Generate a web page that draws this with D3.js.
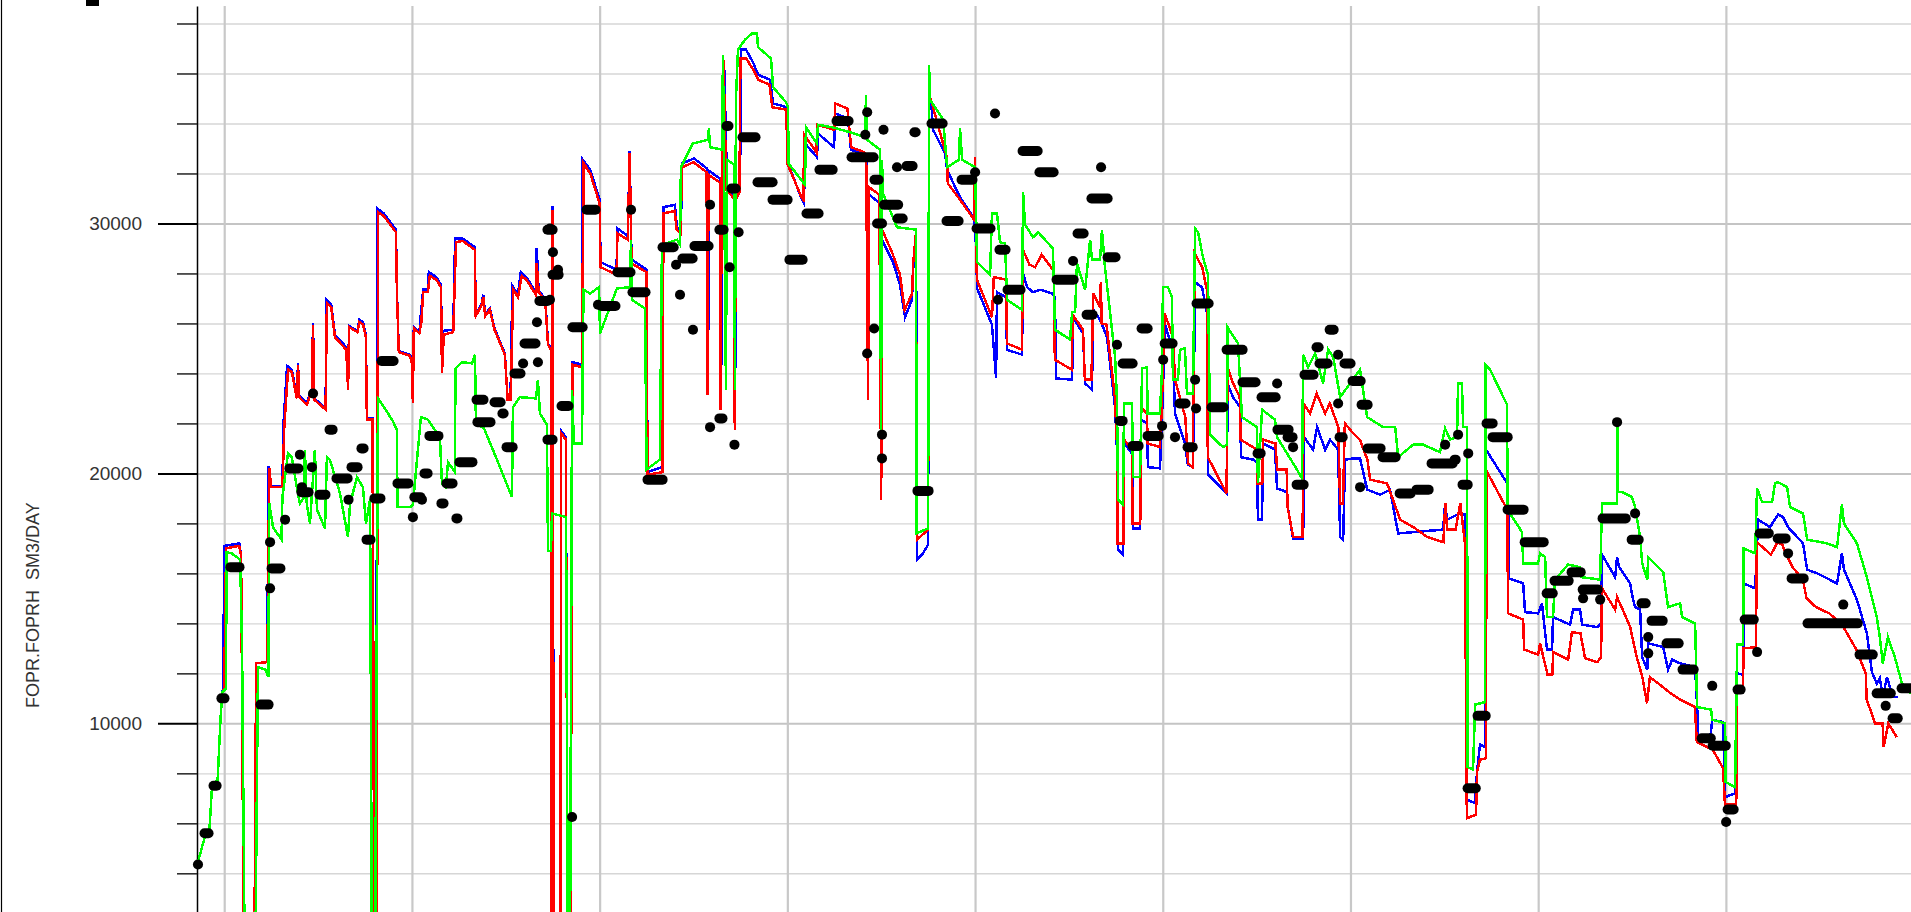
<!DOCTYPE html>
<html>
<head>
<meta charset="utf-8">
<script src="https://cdn.jsdelivr.net/npm/d3@7"></script>
<style>
  html, body { margin: 0; padding: 0; background: #fff; }
  svg { display: block; }
</style>
</head>
<body>
<svg id="chart" width="1911" height="912"></svg>
<script>
// time in decimal years, rates in SM3/DAY (0 = well shut in, off the bottom of the view)
const yearTicks = [2001, 2002, 2003, 2004, 2005, 2006, 2007, 2008, 2009]
const minorTicks = [4000, 6000, 8000, 12000, 14000, 16000, 18000, 22000, 24000, 26000, 28000, 32000, 34000, 36000, 38000]
const majorTicks = [10000, 20000, 30000]
const yLabel = "FOPR.FOPRH  SM3/DAY"

const redRate = [
  [2000.86,4450],[2000.90,5550],[2000.92,5600],[2000.935,7450],[2000.965,7750],[2000.98,10150],[2000.99,11250],[2001.00,11400],
  [2001.01,17000],[2001.08,17100],[2001.09,16700],[2001.105,0],[2001.16,0],[2001.17,12400],[2001.23,12450],[2001.24,20200],
  [2001.25,19450],[2001.31,19450],[2001.32,21850],[2001.34,24150],[2001.36,24050],[2001.387,23000],[2001.393,24350],[2001.40,23050],
  [2001.44,22750],[2001.467,23350],[2001.473,25950],[2001.48,22950],[2001.54,22550],[2001.547,26800],[2001.57,26650],[2001.59,25450],
  [2001.65,24950],[2001.66,23350],[2001.665,25850],[2001.71,25650],[2001.72,26050],[2001.74,25950],[2001.755,25450],[2001.76,22150],
  [2001.79,22150],[2001.80,0],[2001.81,0],[2001.82,30450],[2001.85,30300],[2001.915,29650],[2001.92,27250],[2001.93,24850],
  [2001.99,24700],[2002.00,24400],[2002.005,22800],[2002.01,25800],[2002.04,25600],[2002.05,26050],[2002.06,27250],[2002.085,27250],
  [2002.095,27900],[2002.13,27750],[2002.155,27450],[2002.16,24000],[2002.17,25550],[2002.22,25650],[2002.235,29250],[2002.27,29300],
  [2002.335,28950],[2002.34,26300],[2002.37,26700],[2002.38,27050],[2002.39,26300],[2002.415,26550],[2002.44,25750],[2002.495,24750],
  [2002.51,22950],[2002.525,22950],[2002.54,27350],[2002.565,27050],[2002.585,27900],[2002.61,27750],[2002.66,27150],[2002.665,28400],
  [2002.675,27250],[2002.71,26950],[2002.725,25150],[2002.74,24950],[2002.745,0],[2002.75,30550],[2002.755,0],[2002.79,0],
  [2002.795,21600],[2002.82,21350],[2002.83,0],[2002.845,0],[2002.855,24350],[2002.905,24250],[2002.915,32400],[2002.95,32000],
  [2003.00,30800],[2003.005,28250],[2003.09,27950],[2003.095,29600],[2003.15,29350],[2003.16,32800],[2003.17,28400],[2003.25,28050],
  [2003.255,19950],[2003.335,20050],[2003.34,30400],[2003.40,30500],[2003.41,29750],[2003.43,29600],[2003.44,32250],[2003.50,32450],
  [2003.57,32050],[2003.575,23150],[2003.58,31950],[2003.64,31650],[2003.645,22550],[2003.65,31550],[2003.66,36550],[2003.675,31350],
  [2003.715,31000],[2003.72,21750],[2003.725,30950],[2003.745,31250],[2003.75,36600],[2003.78,36600],[2003.815,36200],[2003.845,35750],
  [2003.905,35550],[2003.92,34650],[2003.995,34550],[2004.00,32400],[2004.075,31050],[2004.085,30950],[2004.09,33550],[2004.155,32850],
  [2004.16,33950],[2004.25,33750],[2004.255,34800],[2004.32,34600],[2004.34,33050],[2004.41,32850],[2004.42,32750],[2004.43,22950],
  [2004.435,31450],[2004.49,31150],[2004.50,18950],[2004.505,29750],[2004.56,28800],[2004.60,27950],[2004.625,26550],[2004.665,27200],
  [2004.67,28400],[2004.685,29600],[2004.69,17350],[2004.75,17750],[2004.755,34950],[2004.765,34950],[2004.85,32650],[2004.855,31600],
  [2004.92,30950],[2004.995,30150],[2005.00,32650],[2005.005,29350],[2005.01,27750],[2005.09,26250],[2005.10,27850],[2005.165,27750],
  [2005.17,25200],[2005.25,24950],[2005.255,28950],[2005.29,28350],[2005.32,28250],[2005.355,28750],[2005.41,28200],[2005.42,28050],
  [2005.425,24550],[2005.515,24150],[2005.52,26350],[2005.575,25750],[2005.585,23750],[2005.62,23750],[2005.63,27200],[2005.665,26650],
  [2005.67,27650],[2005.675,26000],[2005.70,25950],[2005.745,23050],[2005.755,21350],[2005.76,17200],[2005.79,17200],[2005.795,21350],
  [2005.835,20950],[2005.84,18000],[2005.88,18000],[2005.885,22650],[2005.915,22400],[2005.92,21200],[2005.985,21050],[2005.995,22650],
  [2006.01,26400],[2006.055,25450],[2006.065,23750],[2006.12,22250],[2006.135,20400],[2006.16,20250],[2006.17,28800],[2006.21,28250],
  [2006.235,27350],[2006.24,20650],[2006.34,19200],[2006.345,24250],[2006.375,23600],[2006.41,23050],[2006.415,21350],[2006.48,21050],
  [2006.50,20950],[2006.505,19600],[2006.53,19600],[2006.535,21350],[2006.60,21200],[2006.61,20150],[2006.66,20150],[2006.665,18650],
  [2006.695,17450],[2006.745,17450],[2006.75,22800],[2006.785,22400],[2006.82,23200],[2006.865,22400],[2006.89,22800],[2006.935,21850],
  [2006.945,18800],[2006.96,18800],[2006.97,22000],[2007.015,21600],[2007.05,21350],[2007.09,20550],[2007.105,19750],[2007.195,19600],
  [2007.265,18150],[2007.335,17850],[2007.41,17450],[2007.495,17250],[2007.505,18800],[2007.515,17750],[2007.56,17750],[2007.585,18800],
  [2007.61,17200],[2007.62,6200],[2007.669,6350],[2007.674,8050],[2007.69,8550],[2007.722,8600],[2007.725,20100],[2007.835,18550],
  [2007.84,14400],[2007.92,14150],[2007.925,12950],[2008.00,12750],[2008.01,13200],[2008.05,11950],[2008.075,11950],[2008.08,12850],
  [2008.16,12550],[2008.18,13650],[2008.225,13600],[2008.25,12600],[2008.315,12450],[2008.335,12650],[2008.34,15400],[2008.41,14550],
  [2008.42,15050],[2008.45,14550],[2008.49,13850],[2008.525,12650],[2008.555,11850],[2008.58,10800],[2008.595,11850],[2008.665,11450],
  [2008.705,11200],[2008.755,10950],[2008.835,10650],[2008.845,9250],[2008.93,8950],[2008.985,8200],[2008.995,6750],[2009.055,6750],
  [2009.06,11200],[2009.09,11300],[2009.095,13000],[2009.16,13050],[2009.165,17250],[2009.24,16750],[2009.275,17250],[2009.30,17150],
  [2009.32,16800],[2009.355,16250],[2009.41,15750],[2009.43,15000],[2009.48,14650],[2009.55,14400],[2009.615,14000],[2009.695,12950],
  [2009.745,12000],[2009.75,10950],[2009.795,10000],[2009.835,10000],[2009.84,9050],[2009.865,10000],[2009.91,9450]
]

const blueRate = [
  [2000.86,4450],[2000.90,5550],[2000.92,5600],[2000.935,7450],[2000.965,7750],[2000.98,10150],[2000.99,11250],[2000.995,11400],
  [2001.00,17100],[2001.08,17200],[2001.09,16700],[2001.105,0],[2001.16,0],[2001.17,12400],[2001.23,12450],[2001.235,20300],
  [2001.25,19500],[2001.31,19500],[2001.315,21900],[2001.335,24300],[2001.36,24150],[2001.387,23050],[2001.393,24400],[2001.40,23100],
  [2001.44,22800],[2001.467,23400],[2001.473,26000],[2001.48,23000],[2001.54,22600],[2001.545,26950],[2001.57,26750],[2001.59,25550],
  [2001.65,25050],[2001.66,23400],[2001.665,25900],[2001.71,25700],[2001.72,26150],[2001.74,26050],[2001.755,25500],[2001.76,22200],
  [2001.79,22200],[2001.80,0],[2001.81,0],[2001.815,30600],[2001.85,30400],[2001.915,29750],[2001.92,27300],[2001.93,24900],
  [2001.99,24750],[2002.00,24450],[2002.005,22800],[2002.01,25850],[2002.04,25650],[2002.045,26150],[2002.06,27350],[2002.085,27350],
  [2002.09,28050],[2002.13,27850],[2002.155,27550],[2002.16,24050],[2002.165,25700],[2002.22,25750],[2002.23,29400],[2002.27,29400],
  [2002.335,29050],[2002.34,26350],[2002.37,26750],[2002.38,27150],[2002.39,26350],[2002.415,26600],[2002.44,25800],[2002.495,24800],
  [2002.51,22950],[2002.525,22950],[2002.535,27500],[2002.565,27150],[2002.58,28050],[2002.61,27850],[2002.66,27250],[2002.665,29000],
  [2002.675,27300],[2002.71,27000],[2002.725,25200],[2002.74,25000],[2002.745,0],[2002.75,30700],[2002.755,0],[2002.79,0],
  [2002.795,21700],[2002.82,21450],[2002.83,0],[2002.845,0],[2002.855,24450],[2002.905,24350],[2002.91,32550],[2002.95,32150],
  [2003.00,30950],[2003.005,28450],[2003.09,28150],[2003.095,29800],[2003.15,29500],[2003.16,32900],[2003.17,28550],[2003.25,28150],
  [2003.255,20050],[2003.332,20250],[2003.34,30650],[2003.401,30750],[2003.412,29850],[2003.433,29750],[2003.439,32400],[2003.503,32600],
  [2003.572,32200],[2003.577,23150],[2003.583,32100],[2003.641,31800],[2003.647,22550],[2003.652,31700],[2003.663,36450],[2003.679,31500],
  [2003.716,31150],[2003.721,21800],[2003.727,31100],[2003.748,31400],[2003.753,36950],[2003.78,36950],[2003.817,36450],[2003.844,35950],
  [2003.908,35750],[2003.924,34800],[2003.998,34650],[2004.004,32400],[2004.078,30950],[2004.089,30800],[2004.094,33200],[2004.158,32650],
  [2004.163,33600],[2004.249,33050],[2004.254,34400],[2004.323,34200],[2004.339,32950],[2004.414,32750],[2004.425,32600],[2004.43,22950],
  [2004.435,31150],[2004.494,30800],[2004.499,18950],[2004.504,29350],[2004.563,28450],[2004.60,27550],[2004.627,26250],[2004.664,26950],
  [2004.67,28150],[2004.686,29350],[2004.691,16550],[2004.718,16750],[2004.75,17150],[2004.755,34950],[2004.766,34950],[2004.776,33750],
  [2004.84,32800],[2004.851,32150],[2004.894,31450],[2004.92,31050],[2004.995,30200],[2005.005,29150],[2005.011,27400],[2005.09,25950],
  [2005.112,23800],[2005.117,27250],[2005.165,27050],[2005.17,24950],[2005.25,24750],[2005.256,28000],[2005.277,27450],[2005.309,27250],
  [2005.346,27350],[2005.41,27200],[2005.426,27050],[2005.431,23800],[2005.517,23750],[2005.522,26250],[2005.575,25600],[2005.586,23600],
  [2005.623,23350],[2005.629,26550],[2005.666,26150],[2005.703,25450],[2005.746,22650],[2005.756,20950],[2005.762,16950],[2005.788,16750],
  [2005.794,21200],[2005.836,20800],[2005.842,17800],[2005.879,17800],[2005.884,22150],[2005.916,22000],[2005.921,20250],[2005.985,20200],
  [2005.996,22250],[2006.012,25950],[2006.054,24950],[2006.065,22400],[2006.118,21200],[2006.134,20350],[2006.161,20250],[2006.172,27650],
  [2006.209,27450],[2006.236,26400],[2006.241,19950],[2006.342,19200],[2006.345,23600],[2006.374,23050],[2006.412,22650],[2006.417,20650],
  [2006.481,20550],[2006.502,20450],[2006.507,18150],[2006.529,18150],[2006.534,21200],[2006.598,20950],[2006.609,19400],[2006.662,19250],
  [2006.668,18550],[2006.694,17400],[2006.748,17400],[2006.753,21450],[2006.801,20950],[2006.822,21850],[2006.865,20950],[2006.891,21350],
  [2006.934,20950],[2006.945,17450],[2006.961,17350],[2006.971,20550],[2007.014,20600],[2007.051,20600],[2007.089,19350],[2007.158,19150],
  [2007.211,19350],[2007.254,17600],[2007.334,17650],[2007.493,17750],[2007.504,18750],[2007.515,18150],[2007.584,18400],[2007.61,18350],
  [2007.621,6950],[2007.664,6800],[2007.674,8050],[2007.69,9150],[2007.717,9050],[2007.722,20950],[2007.84,19550],[2007.842,15800],
  [2007.92,15600],[2007.93,14450],[2008.00,14400],[2008.02,14800],[2008.047,12950],[2008.074,12950],[2008.079,14250],[2008.17,13950],
  [2008.186,14550],[2008.223,14550],[2008.234,13950],[2008.314,13850],[2008.335,14000],[2008.34,16750],[2008.41,15850],[2008.42,16650],
  [2008.431,16250],[2008.49,15600],[2008.50,15150],[2008.516,14650],[2008.543,14550],[2008.554,12650],[2008.581,12150],[2008.586,13200],
  [2008.666,13050],[2008.692,12150],[2008.714,12550],[2008.756,12400],[2008.836,12250],[2008.847,10650],[2008.852,9450],[2008.916,9350],
  [2008.927,10150],[2008.985,10050],[2008.996,7050],[2009.049,7200],[2009.06,12000],[2009.092,11950],[2009.094,15600],[2009.156,15400],
  [2009.172,18150],[2009.235,17850],[2009.278,18350],[2009.305,18250],[2009.331,17850],[2009.411,17200],[2009.433,16150],[2009.486,16000],
  [2009.592,15600],[2009.618,16800],[2009.629,16150],[2009.698,14950],[2009.751,13600],[2009.778,12050],[2009.804,11600],[2009.82,11800],
  [2009.836,11050],[2009.858,11850],[2009.89,11050],[2009.916,11050]
]

const greenRate = [
  [2000.86,4450],[2000.90,5550],[2000.92,5600],[2000.935,7450],[2000.965,7750],[2000.98,10150],[2000.99,11250],[2001.01,11400],
  [2001.012,16850],[2001.04,16800],[2001.085,16550],[2001.095,13050],[2001.11,0],[2001.165,0],[2001.18,12250],[2001.22,12150],
  [2001.235,11850],[2001.24,18800],[2001.26,17850],[2001.305,17350],[2001.31,19050],[2001.34,20800],[2001.36,20650],[2001.387,19450],
  [2001.403,18800],[2001.425,19050],[2001.43,20950],[2001.44,18750],[2001.457,18000],[2001.483,20950],[2001.494,18550],[2001.537,17800],
  [2001.547,20650],[2001.563,20550],[2001.617,19200],[2001.659,17450],[2001.67,18750],[2001.707,19850],[2001.739,19450],[2001.755,18000],
  [2001.777,18950],[2001.787,0],[2001.803,0],[2001.819,23000],[2001.851,22650],[2001.894,22150],[2001.92,21750],[2001.923,18650],
  [2001.99,18650],[2002.005,18750],[2002.048,22250],[2002.085,22150],[2002.149,21450],[2002.16,19600],[2002.181,19450],[2002.192,20450],
  [2002.229,20050],[2002.232,24200],[2002.266,24450],[2002.32,24400],[2002.336,24750],[2002.341,22000],[2002.384,21800],[2002.453,20550],
  [2002.533,19050],[2002.538,22650],[2002.575,23050],[2002.661,23000],[2002.671,23750],[2002.682,22400],[2002.719,21950],[2002.725,16900],
  [2002.741,16900],[2002.746,18400],[2002.821,18250],[2002.831,0],[2002.842,0],[2002.853,23350],[2002.863,21200],[2002.906,21200],
  [2002.914,27350],[2002.949,27200],[2002.997,27450],[2003.002,25600],[2003.092,27400],[2003.162,27450],[2003.167,29350],[2003.172,26950],
  [2003.242,26600],[2003.25,20150],[2003.321,20550],[2003.332,29150],[2003.412,29350],[2003.428,29150],[2003.433,32250],[2003.497,33200],
  [2003.577,33350],[2003.582,33800],[2003.588,33050],[2003.652,32950],[2003.657,36750],[2003.662,32950],[2003.673,23350],[2003.678,32550],
  [2003.716,32350],[2003.721,23350],[2003.726,34950],[2003.737,36950],[2003.774,37350],[2003.812,37600],[2003.838,37600],[2003.844,37050],
  [2003.913,36600],[2003.924,35450],[2003.993,34850],[2004.004,34650],[2004.006,32400],[2004.094,31550],[2004.099,33850],[2004.158,33200],
  [2004.163,33950],[2004.238,33850],[2004.334,33650],[2004.414,33450],[2004.419,35150],[2004.424,33350],[2004.494,32950],[2004.499,21600],
  [2004.504,32550],[2004.51,31200],[2004.584,29850],[2004.686,29750],[2004.688,17600],[2004.75,17800],[2004.755,36350],[2004.76,34950],
  [2004.83,34150],[2004.851,32250],[2004.915,32550],[2004.92,33800],[2004.931,32550],[2005.00,32250],[2005.011,28450],[2005.08,27950],
  [2005.09,30400],[2005.117,30400],[2005.133,29250],[2005.16,29200],[2005.17,26950],[2005.25,26550],[2005.256,31250],[2005.266,29950],
  [2005.309,29450],[2005.336,29650],[2005.415,29000],[2005.426,25750],[2005.506,25350],[2005.517,26450],[2005.533,26450],[2005.543,28400],
  [2005.586,27350],[2005.613,29350],[2005.623,28550],[2005.666,28550],[2005.676,29750],[2005.692,28250],[2005.746,24650],[2005.756,22950],
  [2005.762,18950],[2005.788,18750],[2005.794,22800],[2005.836,22800],[2005.842,19850],[2005.879,19850],[2005.89,24200],[2005.916,24250],
  [2005.919,22400],[2005.985,22400],[2005.996,24150],[2006.001,27450],[2006.028,27450],[2006.049,27050],[2006.054,23750],[2006.081,23750],
  [2006.092,24950],[2006.118,25000],[2006.129,23200],[2006.161,23200],[2006.172,29800],[2006.188,29650],[2006.214,28650],[2006.241,27950],
  [2006.252,21550],[2006.321,21050],[2006.342,21150],[2006.345,25850],[2006.401,25200],[2006.422,22250],[2006.502,21850],[2006.507,19600],
  [2006.529,22550],[2006.598,22150],[2006.609,21450],[2006.715,20150],[2006.742,19800],[2006.748,24750],[2006.774,24250],[2006.812,24800],
  [2006.854,23600],[2006.881,24950],[2006.908,24650],[2006.945,23050],[2007.051,24150],[2007.089,22250],[2007.174,21850],[2007.238,21850],
  [2007.254,20650],[2007.334,21150],[2007.387,21150],[2007.477,20850],[2007.504,21800],[2007.531,21350],[2007.568,21450],[2007.573,23600],
  [2007.594,23600],[2007.60,21850],[2007.621,21850],[2007.624,8250],[2007.653,8150],[2007.664,10750],[2007.717,10850],[2007.72,24350],
  [2007.744,24150],[2007.834,22750],[2007.837,18550],[2007.914,17650],[2007.92,16400],[2007.999,16400],[2008.01,16800],[2008.037,16650],
  [2008.047,14250],[2008.079,14250],[2008.09,15750],[2008.159,16350],[2008.223,16250],[2008.228,15850],[2008.33,15750],[2008.34,18800],
  [2008.42,18800],[2008.423,22050],[2008.426,19250],[2008.447,19250],[2008.50,19050],[2008.516,18650],[2008.543,17450],[2008.554,16400],
  [2008.581,15750],[2008.586,16650],[2008.666,16050],[2008.692,14650],[2008.756,14800],[2008.767,14250],[2008.82,14050],[2008.836,14000],
  [2008.847,10650],[2008.921,10550],[2008.927,10150],[2008.996,10000],[2008.999,7650],[2009.049,7450],[2009.06,13150],[2009.092,13150],
  [2009.094,17000],[2009.156,16800],[2009.166,19400],[2009.193,18850],[2009.246,18850],[2009.262,19600],[2009.278,19650],[2009.326,19450],
  [2009.342,18650],[2009.411,18400],[2009.433,17350],[2009.539,17200],[2009.592,17050],[2009.618,18750],[2009.629,18000],[2009.698,17200],
  [2009.751,15850],[2009.804,14250],[2009.82,13450],[2009.836,12400],[2009.863,13450],[2009.90,12650],[2009.938,11600],[2009.986,11200]
]

// history (FOPRH): [from, to, rate] — equal from/to is a single report
const observedRate = [
  [2000.86,2000.86,4350],[2000.895,2000.916,5600],[2000.943,2000.959,7500],[2000.985,2001.001,11000],[2001.033,2001.081,16250],
  [2001.193,2001.236,10750],[2001.244,2001.244,15400],[2001.252,2001.299,16200],[2001.244,2001.244,17250],[2001.324,2001.324,18150],
  [2001.347,2001.395,20200],[2001.403,2001.403,20750],[2001.467,2001.467,20250],[2001.414,2001.414,19450],[2001.411,2001.449,19250],
  [2001.507,2001.539,19150],[2001.473,2001.473,23200],[2001.561,2001.577,21750],[2001.598,2001.657,19800],[2001.678,2001.71,20250],
  [2001.731,2001.742,21000],[2001.662,2001.662,18950],[2001.80,2001.832,19000],[2001.758,2001.779,17350],[2001.838,2001.902,24500],
  [2001.923,2001.981,19600],[2002.013,2002.045,19050],[2002.053,2002.053,18950],[2002.005,2002.005,18250],[2002.067,2002.083,20000],
  [2002.093,2002.141,21500],[2002.157,2002.168,18800],[2002.184,2002.216,19600],[2002.237,2002.242,18200],[2002.253,2002.322,20450],
  [2002.344,2002.381,22950],[2002.349,2002.418,22050],[2002.44,2002.472,22850],[2002.482,2002.488,22400],[2002.504,2002.536,21050],
  [2002.546,2002.578,24000],[2002.592,2002.592,24400],[2002.60,2002.658,25200],[2002.666,2002.666,26050],[2002.671,2002.671,24450],
  [2002.679,2002.722,26900],[2002.722,2002.749,29750],[2002.751,2002.751,28850],[2002.749,2002.781,27950],[2002.778,2002.778,28150],
  [2002.797,2002.834,22700],[2002.722,2002.749,21350],[2002.93,2002.978,30550],[2002.855,2002.909,25850],[2002.991,2002.991,26750],
  [2002.853,2002.853,6250],[2002.735,2002.735,29800],[2002.735,2002.735,26950],[2003.167,2003.167,30550],[2003.095,2003.164,28050],
  [2003.01,2003.084,26700],[2003.175,2003.244,27250],[2003.335,2003.394,29050],[2003.407,2003.407,28350],[2003.428,2003.428,27150],
  [2003.497,2003.497,25750],[2003.441,2003.495,28600],[2003.505,2003.58,29100],[2003.588,2003.588,30750],[2003.638,2003.66,29750],
  [2003.692,2003.692,28250],[2003.74,2003.74,29650],[2003.702,2003.724,31400],[2003.676,2003.686,33900],[2003.761,2003.83,33450],
  [2003.841,2003.921,31650],[2003.921,2004.001,30950],[2004.011,2004.081,28550],[2004.102,2004.166,30400],[2004.171,2004.241,32150],
  [2004.262,2004.326,34100],[2004.342,2004.459,32650],[2004.425,2004.425,34450],[2004.415,2004.415,33550],[2004.464,2004.486,31750],
  [2004.512,2004.512,33750],[2004.677,2004.683,33650],[2004.635,2004.667,32300],[2004.584,2004.584,32250],[2004.515,2004.59,30750],
  [2004.478,2004.504,30000],[2004.587,2004.614,30200],[2004.768,2004.827,34000],[2004.848,2004.912,30100],[2004.928,2004.986,31750],
  [2005.00,2005.00,32050],[2005.008,2005.082,29800],[2005.106,2005.106,34400],[2005.122,2005.122,26950],[2005.13,2005.162,28950],
  [2005.173,2005.242,27350],[2005.253,2005.333,32900],[2005.343,2005.418,32050],[2004.425,2004.425,24800],[2004.462,2004.462,25800],
  [2003.588,2003.588,21850],[2003.638,2003.654,22200],[2003.718,2003.718,21150],[2003.255,2003.335,19750],[2004.504,2004.504,21550],
  [2004.504,2004.504,20600],[2004.693,2004.752,19300],[2005.671,2005.671,32250],[2005.62,2005.706,31000],[2005.546,2005.578,29600],
  [2005.706,2005.748,28650],[2005.522,2005.522,28500],[2005.434,2005.525,27750],[2005.594,2005.626,26350],[2005.756,2005.756,25150],
  [2005.786,2005.839,24400],[2005.887,2005.919,25800],[2006.01,2006.052,25200],[2006.002,2006.002,24550],[2006.172,2006.172,23750],
  [2006.18,2006.244,26800],[2006.34,2006.425,24950],[2006.425,2006.494,23650],[2006.609,2006.609,23600],[2006.526,2006.601,23050],
  [2006.889,2006.91,25750],[2006.819,2006.83,25050],[2006.934,2006.934,24750],[2006.835,2006.878,24400],[2006.968,2007.00,24400],
  [2006.755,2006.803,23950],[2007.011,2007.054,23700],[2007.059,2007.091,22750],[2006.934,2006.934,22800],[2006.942,2006.958,21450],
  [2007.051,2007.051,19450],[2007.091,2007.16,21000],[2007.171,2007.24,20650],[2007.262,2007.32,19200],[2007.352,2007.416,19350],
  [2007.504,2007.504,21150],[2007.573,2007.573,21550],[2007.432,2007.544,20400],[2007.627,2007.627,20800],[2007.597,2007.624,19550],
  [2007.725,2007.757,22000],[2007.757,2007.837,21450],[2005.77,2005.786,22100],[2005.839,2005.871,21100],[2005.919,2005.978,21500],
  [2005.996,2005.996,21900],[2006.065,2006.065,21450],[2006.089,2006.121,22800],[2006.132,2006.159,21050],[2006.177,2006.177,22600],
  [2006.26,2006.324,22650],[2006.505,2006.521,20800],[2006.611,2006.67,21750],[2006.665,2006.691,21450],[2006.694,2006.694,21050],
  [2006.713,2006.75,19550],[2007.624,2007.667,7400],[2007.677,2007.72,10300],[2007.555,2007.56,20550],[2007.837,2007.922,18550],
  [2007.928,2008.029,17250],[2008.045,2008.077,15200],[2008.087,2008.162,15700],[2008.178,2008.226,16050],[2008.237,2008.317,15350],
  [2008.239,2008.239,15000],[2008.33,2008.33,14950],[2008.42,2008.42,22050],[2008.343,2008.466,18200],[2008.516,2008.516,18400],
  [2008.498,2008.535,17350],[2008.551,2008.572,14800],[2008.604,2008.663,14100],[2008.586,2008.586,13450],[2008.586,2008.586,12800],
  [2008.684,2008.748,13200],[2008.769,2008.828,12150],[2008.927,2008.927,11500],[2008.871,2008.919,9400],[2008.929,2008.999,9100],
  [2009.10,2009.148,14150],[2009.062,2009.078,11350],[2009.166,2009.166,12850],[2009.18,2009.228,17600],[2009.276,2009.318,17400],
  [2009.331,2009.331,16800],[2009.35,2009.414,15800],[2009.625,2009.625,14750],[2009.435,2009.702,14000],[2009.712,2009.782,12750],
  [2009.803,2009.878,11200],[2009.851,2009.851,10700],[2009.888,2009.915,10200],[2009.936,2009.99,11400],[2009.009,2009.041,6550],
  [2009.001,2009.001,6050]
]

const svg = d3.select("#chart")
const width = +svg.attr("width")
const height = +svg.attr("height")
const plotLeft = 197
const plotTop = 6

const x = d3.scaleLinear().domain([2000.855, 2010]).range([plotLeft, 1913.6])
const y = d3.scaleLinear().domain([2000, 38700]).range([923.3, plotTop])

// window frame on the far left and a clipped mark above the axis
svg.append("line")
    .attr("x1", 1.5).attr("x2", 1.5).attr("y1", 0).attr("y2", height)
    .attr("stroke", "#000").attr("stroke-width", 1.2)
svg.append("rect")
    .attr("x", 86).attr("y", 0).attr("width", 13).attr("height", 6)
    .attr("fill", "#000")

// grid
const hGrid = svg.append("g")
    .attr("transform", "translate(" + plotLeft + ",0)")
    .call(d3.axisLeft(y).tickValues(minorTicks.concat(majorTicks)).tickSize(-(width - plotLeft)).tickFormat(""))
hGrid.select(".domain").remove()
hGrid.selectAll(".tick line")
    .attr("stroke", d => majorTicks.includes(d) ? "#c4c4c4" : "#d6d6d6")
    .attr("stroke-width", d => majorTicks.includes(d) ? 2 : 1.4)

const vGrid = svg.append("g")
    .attr("transform", "translate(0," + height + ")")
    .call(d3.axisBottom(x).tickValues(yearTicks).tickSize(-(height - plotTop)).tickFormat(""))
vGrid.select(".domain").remove()
vGrid.selectAll(".tick line").attr("stroke", "#c8c8c8").attr("stroke-width", 2.2)

// y axis: short minor ticks, long labelled major ticks
const minorAxis = svg.append("g")
    .attr("transform", "translate(" + plotLeft + ",0)")
    .call(d3.axisLeft(y).tickValues(minorTicks).tickSize(20).tickSizeOuter(0).tickFormat(""))
minorAxis.select(".domain").attr("stroke", "#000").attr("stroke-width", 1.5)
minorAxis.selectAll(".tick line").attr("stroke", "#222").attr("stroke-width", 1.5)

const majorAxis = svg.append("g")
    .attr("transform", "translate(" + plotLeft + ",0)")
    .call(d3.axisLeft(y).tickValues(majorTicks).tickSize(39).tickPadding(16).tickFormat(d3.format("d")))
majorAxis.select(".domain").remove()
majorAxis.selectAll(".tick line").attr("stroke", "#000").attr("stroke-width", 2)
majorAxis.selectAll(".tick text")
    .attr("font-family", "'Liberation Sans', Arial, sans-serif")
    .attr("font-size", 19)
    .attr("fill", "#333")

svg.append("text")
    .attr("transform", "translate(39,708) rotate(-90)")
    .attr("font-family", "'Liberation Sans', Arial, sans-serif")
    .attr("font-size", 18)
    .attr("fill", "#333")
    .style("white-space", "pre")
    .text(yLabel)

// simulated profiles
const line = d3.line().x(d => x(d[0])).y(d => y(d[1]))
const series = [
    { values: blueRate, color: "#0000ff" },
    { values: redRate, color: "#ff0000" },
    { values: greenRate, color: "#00ff00" },
]
svg.append("g").selectAll("path")
    .data(series)
    .join("path")
    .attr("d", d => line(d.values))
    .attr("fill", "none")
    .attr("stroke", d => d.color)
    .attr("stroke-width", 2.5)
    .attr("stroke-linejoin", "miter")
    .attr("shape-rendering", "crispEdges")

// history reports
svg.append("g").selectAll("path")
    .data(observedRate)
    .join("path")
    .attr("d", d => "M" + x(d[0]) + "," + y(d[2]) + "L" + (x(d[1]) + 0.1) + "," + y(d[2]))
    .attr("stroke", "#000")
    .attr("stroke-width", 10)
    .attr("stroke-linecap", "round")
    .attr("fill", "none")
</script>
</body>
</html>
